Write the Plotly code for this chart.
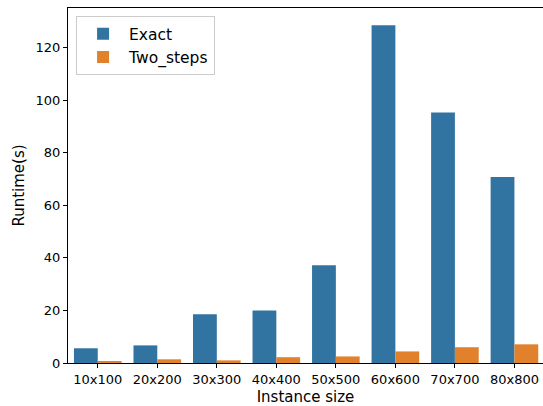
import plotly.graph_objects as go

categories = ["10x100", "20x200", "30x300", "40x400", "50x500", "60x600", "70x700", "80x800"]
exact = [5.6, 6.7, 18.5, 20.0, 37.2, 128.4, 95.3, 70.7]
two_steps = [0.6, 1.4, 1.0, 2.2, 2.5, 4.4, 6.0, 7.1]
y_ticks = [0, 20, 40, 60, 80, 100, 120]

FONT = "DejaVu Sans"

fig = go.Figure()
fig.add_trace(go.Bar(x=categories, y=exact, name="Exact", marker=dict(color="#3274a1", line=dict(width=0))))
fig.add_trace(go.Bar(x=categories, y=two_steps, name="Two_steps", marker=dict(color="#e1812c", line=dict(width=0))))

fig.update_layout(
    width=543, height=406,
    margin=dict(l=68, r=0, t=8, b=43),
    paper_bgcolor="white", plot_bgcolor="white",
    barmode="group", bargap=0.2, bargroupgap=0,
    font=dict(family=FONT, size=13, color="black"),
    showlegend=True,
    legend=dict(
        x=0.017, y=0.977, xanchor="left", yanchor="top",
        bordercolor="#cccccc", borderwidth=1, bgcolor="rgba(255,255,255,0.8)",
        font=dict(family=FONT, size=15.5, color="black"),
        itemwidth=42, tracegroupgap=0,
    ),
    xaxis=dict(
        range=[-0.5, 7.48], showline=True, linecolor="black", linewidth=1, mirror=True,
        ticks="outside", ticklen=4, tickcolor="black", showgrid=False,
        tickfont=dict(family=FONT, size=13),
        title=dict(text="Instance size", font=dict(family=FONT, size=15), standoff=5),
    ),
    yaxis=dict(
        range=[0, 135], showline=True, linecolor="black", linewidth=1,
        ticks="outside", ticklen=4, tickcolor="black", showgrid=False, zeroline=False,
        tickvals=y_ticks, tickfont=dict(family=FONT, size=13),
        title=dict(text="Runtime(s)", font=dict(family=FONT, size=15), standoff=7),
    ),
)

fig.write_html("out.html", config={"displayModeBar": False},
               post_script="document.body.style.margin='0';")
